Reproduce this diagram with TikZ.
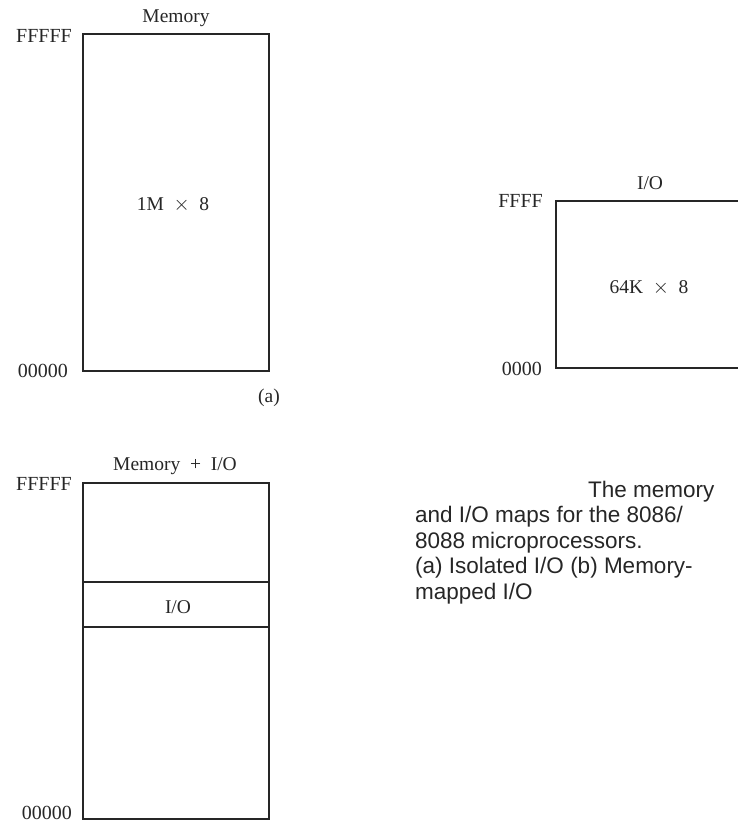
\documentclass[tikz,border=0pt]{standalone}
\usepackage{fontspec}
\setmainfont{Liberation Serif}
\newfontfamily\capfont{Liberation Sans}
\begin{document}
\begin{tikzpicture}[x=1pt,y=-1pt,
  boxline/.style={draw=black!85, line width=1.6pt},
  lbl/.style={inner sep=0pt, font=\fontsize{19.5}{22}\selectfont, text=black!85},
  addr/.style={inner sep=0pt, font=\fontsize{20}{22}\selectfont, text=black!85, anchor=base east}]
\useasboundingbox (0,0) rectangle (738,825);
% (a) memory
\draw[boxline] (83,34) rectangle (269,371);
\node[lbl, anchor=base] (memt) at (176,22) {Memory};
\node[addr] (mtop) at (72,42) {FFFFF};
\node[addr] (mbot) at (68,377) {00000};
\node[lbl, anchor=base] (mcap) at (173,210) {1M\enspace$\times$\enspace 8};
\node[lbl, anchor=base] (alab) at (269,402) {(a)};
% (a) I/O
\draw[boxline] (744,201) -- (556,201) -- (556,368) -- (744,368);
\node[lbl, anchor=base] (iot) at (650,189) {I/O};
\node[addr] (itop) at (543,207) {FFFF};
\node[addr] (ibot) at (542,375) {0000};
\node[lbl, anchor=base] (icap) at (649,293) {64K\enspace$\times$\enspace 8};
% (b) memory-mapped
\draw[boxline] (83,483) rectangle (269,819);
\draw[boxline] (83,582) -- (269,582);
\draw[boxline] (83,627) -- (269,627);
\node[lbl, anchor=base] (mmt) at (175,470) {Memory\enspace+\enspace I/O};
\node[addr] (btop) at (72,490) {FFFFF};
\node[addr] (bbot) at (72,819) {00000};
\node[lbl, anchor=base] (bio) at (178,613) {I/O};
% caption
\node[inner sep=0pt, anchor=base west, align=left, text=black!85,
      font=\capfont\fontsize{22.5}{25.5}\selectfont] (cap) at (415,599)
  {\hspace*{173pt}The memory\\and I/O maps for the 8086/\\8088 microprocessors.\\(a) Isolated I/O (b) Memory-\\mapped I/O};
\end{tikzpicture}
\end{document}
